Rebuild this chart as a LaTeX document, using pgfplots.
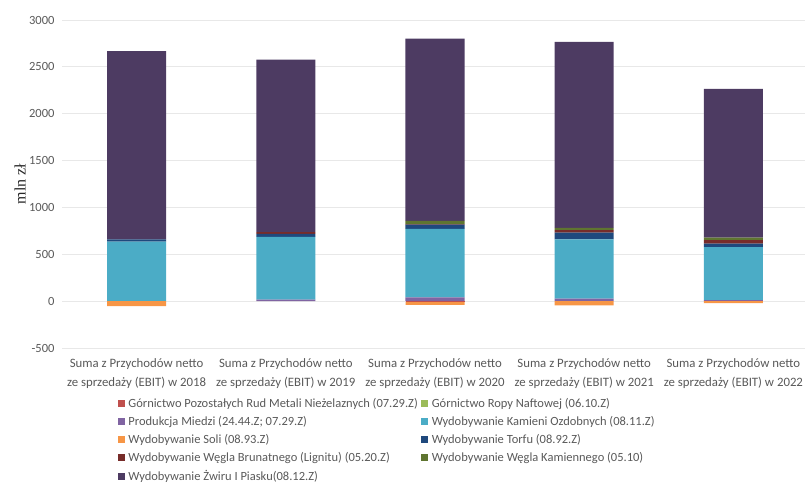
\documentclass[border=0pt]{standalone}
\usepackage{pgfplots}
\pgfplotsset{compat=1.18}
\usepackage{fontspec}
\setmainfont{Carlito}
\newfontfamily\seriffont{Liberation Serif}
\definecolor{cPoz}{HTML}{C0504D}
\definecolor{cRopy}{HTML}{9BBB59}
\definecolor{cMiedz}{HTML}{8064A2}
\definecolor{cKam}{HTML}{4BACC6}
\definecolor{cSoli}{HTML}{F79646}
\definecolor{cTorf}{HTML}{1F497D}
\definecolor{cBrun}{HTML}{772C2A}
\definecolor{cKamien}{HTML}{5F7530}
\definecolor{cZwir}{HTML}{4D3B62}
\definecolor{ctick}{HTML}{595959}
\pgfplotsset{
  common/.style={
    at={(62pt,137pt)}, anchor=south west,
    scale only axis, width=743pt, height=328pt,
    xmin=-0.5, xmax=4.48, ymin=-500, ymax=3000,
    ybar stacked, bar width=59pt,
  }
}
\begin{document}
\begin{tikzpicture}
\useasboundingbox (0,0) rectangle (805pt,485pt);
\begin{axis}[common,
  axis line style={draw=none},
  tick style={draw=none},
  ymajorgrids, grid style={draw=gray!18, line width=0.8pt},
  ytick={-500,0,...,3000},
  xtick={0,1,2,3,4},
  xticklabels={{Suma z Przychodów netto\\ze sprzedaży (EBIT) w 2018},
               {Suma z Przychodów netto\\ze sprzedaży (EBIT) w 2019},
               {Suma z Przychodów netto\\ze sprzedaży (EBIT) w 2020},
               {Suma z Przychodów netto\\ze sprzedaży (EBIT) w 2021},
               {Suma z Przychodów netto\\ze sprzedaży (EBIT) w 2022}},
  major tick length=0pt,
  /pgf/number format/assume math mode=true,
  /pgf/number format/1000 sep={},
  yticklabel style={font=\fontsize{12.5}{14}\selectfont, text=ctick, anchor=east, xshift=-4pt},
  xticklabel style={font=\fontsize{12.8}{19}\selectfont, text=ctick, align=center, anchor=north, yshift=-7pt},
  ylabel={\seriffont mln zł},
  every axis y label/.style={at={(axis description cs:0,0.5)}, rotate=90, anchor=center, yshift=42pt, font=\fontsize{16}{18}\selectfont, text=black!85},
  legend columns=2,
  legend cell align=left,
  legend image code/.code={\fill[#1] (0pt,-3.5pt) rectangle (7pt,3.5pt);},
  legend style={at={(axis description cs:0.071,-0.141)}, anchor=north west, draw=none, fill=none,
    font=\fontsize{12.5}{14}\selectfont, text=ctick, row sep=3.4pt, column sep=1.5pt},
]
\addplot[fill=cMiedz, draw=none, forget plot] coordinates {(0,0) (1,15) (2,39) (3,28) (4,10)};
\addplot[fill=cKam, draw=none, forget plot] coordinates {(0,634) (1,672) (2,733) (3,631) (4,567)};
\addplot[fill=cTorf, draw=none, forget plot] coordinates {(0,25) (1,32) (2,44) (3,71) (4,36)};
\addplot[fill=cBrun, draw=none, forget plot] coordinates {(0,0) (1,17) (2,6) (3,28) (4,38)};
\addplot[fill=cKamien, draw=none, forget plot] coordinates {(0,0) (1,0) (2,35) (3,25) (4,26)};
\addplot[fill=cZwir, draw=none, forget plot] coordinates {(0,2008) (1,1842) (2,1944) (3,1983) (4,1589)};
\addlegendimage{fill=cPoz, draw=none}
\addlegendimage{fill=cRopy, draw=none}
\addlegendimage{fill=cMiedz, draw=none}
\addlegendimage{fill=cKam, draw=none}
\addlegendimage{fill=cSoli, draw=none}
\addlegendimage{fill=cTorf, draw=none}
\addlegendimage{fill=cBrun, draw=none}
\addlegendimage{fill=cKamien, draw=none}
\addlegendimage{fill=cZwir, draw=none}
\legend{Górnictwo Pozostałych Rud Metali Nieżelaznych (07.29.Z),
        Górnictwo Ropy Naftowej (06.10.Z),
        Produkcja Miedzi (24.44.Z; 07.29.Z),
        Wydobywanie Kamieni Ozdobnych (08.11.Z),
        Wydobywanie Soli (08.93.Z),
        Wydobywanie Torfu (08.92.Z),
        Wydobywanie Węgla Brunatnego (Lignitu) (05.20.Z),
        Wydobywanie Węgla Kamiennego (05.10),
        Wydobywanie Żwiru I Piasku(08.12.Z)}
\end{axis}
\begin{axis}[common, hide axis]
\addplot[fill=cPoz, draw=none] coordinates {(0,0) (1,0) (2,-8) (3,0) (4,0)};
\addplot[fill=cRopy, draw=none] coordinates {(0,0) (1,0) (2,0) (3,0) (4,0)};
\addplot[fill=cSoli, draw=none] coordinates {(0,-52) (1,0) (2,-32) (3,-45) (4,-22)};
\end{axis}
\end{tikzpicture}
\end{document}
